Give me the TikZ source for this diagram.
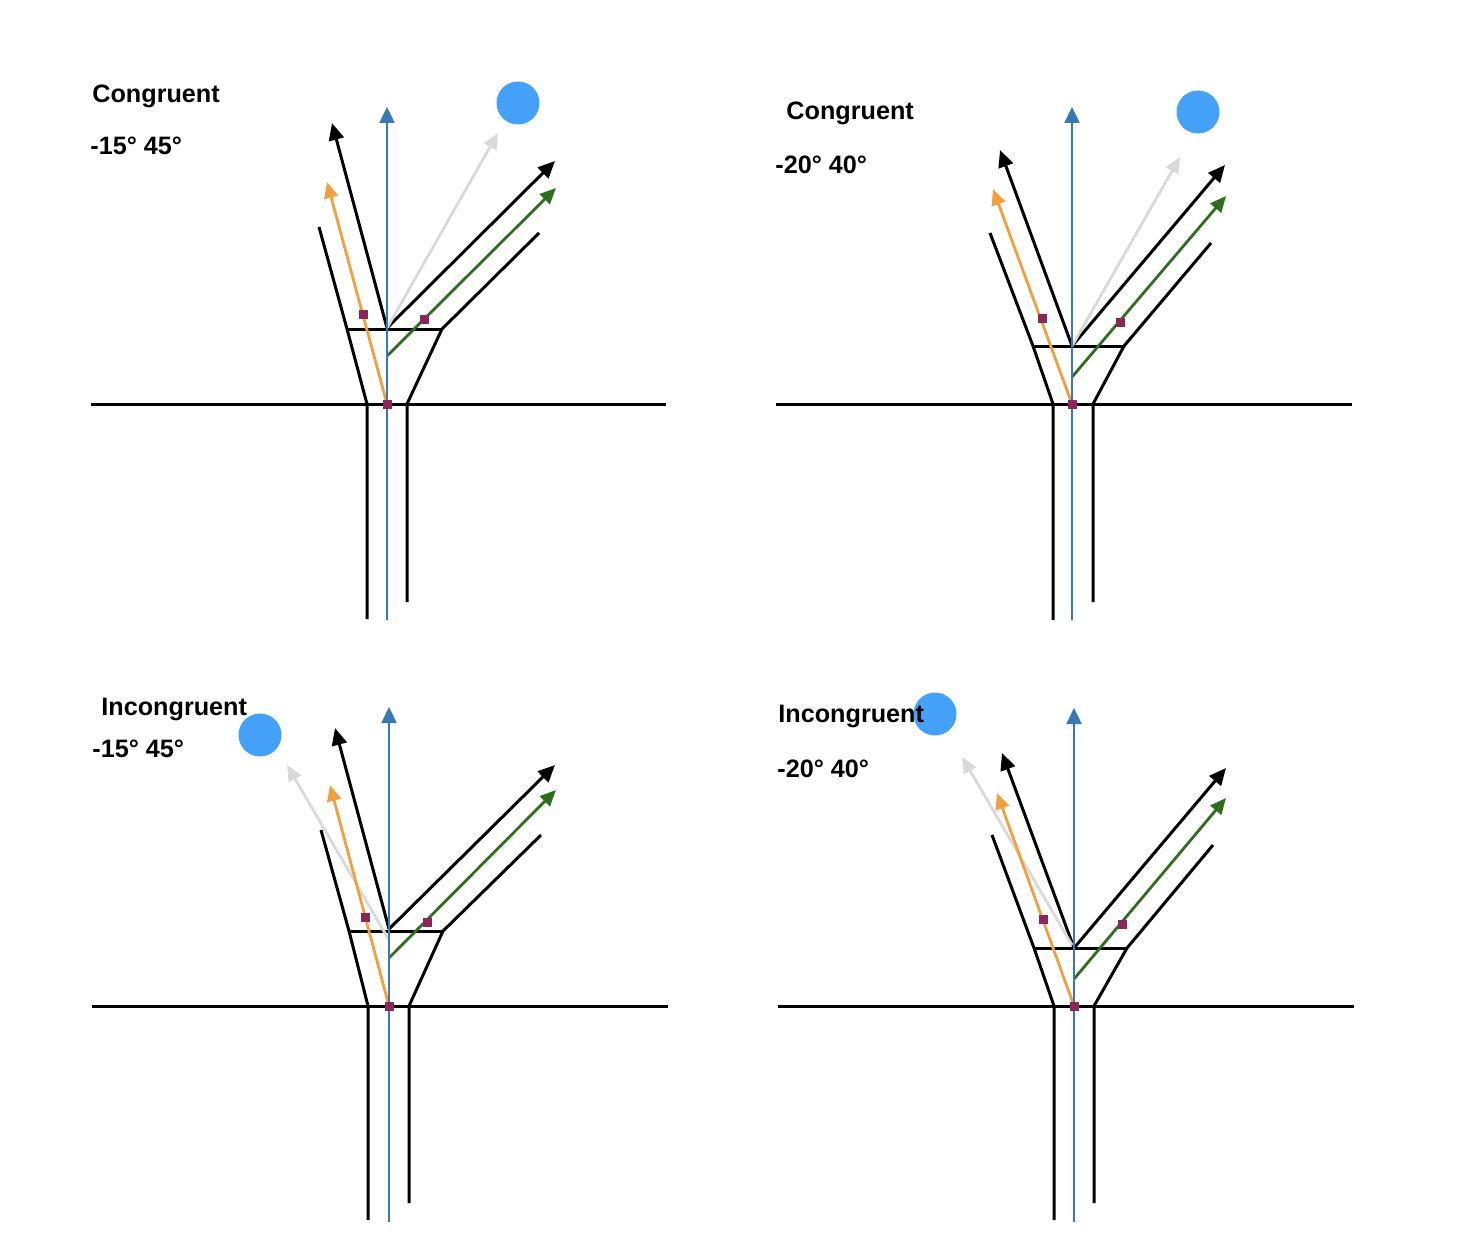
\documentclass[tikz,border=0pt]{standalone}
\usepackage{fontspec}
\setmainfont{Liberation Sans}
\usepackage{tikz}
\usetikzlibrary{arrows.meta}
\definecolor{axisblue}{HTML}{3A78B4}
\definecolor{rayorange}{HTML}{F0A040}
\definecolor{raygreen}{HTML}{2F6E1F}
\definecolor{raygrey}{HTML}{D9D9D9}
\definecolor{ballblue}{HTML}{45A1F7}
\definecolor{plum}{HTML}{8C2558}

\begin{document}
\begin{tikzpicture}[x=0.5pt, y=-0.5pt, line join=round,
    wall/.style={line width=1.5pt, draw=black},
    arrow/.style={-{Triangle[length=8.5pt, width=7.5pt]}, line width=1.5pt, draw=black},
    ray/.style={-{Triangle[length=8pt, width=7pt]}, line width=1.4pt, draw=#1},
    axis/.style={-{Triangle[length=8pt, width=7.5pt]}, line width=1.2pt, draw=axisblue},
    sensor/.style={fill=plum, inner sep=0pt, minimum size=4.5pt},
    ball/.style={circle, fill=ballblue, inner sep=0pt, minimum size=21.5pt},
    headline/.style={anchor=base west, inner sep=0pt, font=\fontsize{12.6}{15}\selectfont\bfseries}]
  \fill[white] (0,0) rectangle (1470,1246);
  \useasboundingbox (0,0) rectangle (1470,1246);

  % top left
  \coordinate (a-gl) at (91,404); \coordinate (a-gr) at (666,404);
  \coordinate (a-pl) at (367,404); \coordinate (a-pr) at (407,404);
  \coordinate (a-plb) at (367,619); \coordinate (a-prb) at (407,602);
  \coordinate (a-fl) at (347,329); \coordinate (a-fr) at (442,329);
  \coordinate (a-ol) at (319,227); \coordinate (a-or) at (539,233);
  \coordinate (a-jn) at (387,328); \coordinate (a-il) at (332,123);
  \coordinate (a-ir) at (555,161); \coordinate (a-bb) at (387,620);
  \coordinate (a-bt) at (387,107); \coordinate (a-ob) at (387,404);
  \coordinate (a-ot) at (327,182); \coordinate (a-gb) at (387,356);
  \coordinate (a-gt) at (556,188); \coordinate (a-yt) at (498,133);

  \draw[wall] (a-gl) -- (a-gr); \draw[wall] (a-fl) -- (a-fr);
  \draw[wall] (a-plb) -- (a-pl) -- (a-fl) -- (a-ol);
  \draw[wall] (a-prb) -- (a-pr) -- (a-fr) -- (a-or);
  \draw[arrow] (a-jn) -- (a-il); \draw[arrow] (a-jn) -- (a-ir);
  \draw[ray=raygrey] (a-jn) -- (a-yt);
  \draw[ray=rayorange] (a-ob) -- (a-ot);
  \draw[ray=raygreen] (a-gb) -- (a-gt);
  \draw[axis] (a-bb) -- (a-bt);
  \node[sensor] (a-s1) at (363,314) {}; \node[sensor] (a-s2) at (424,319) {};
  \node[sensor] (a-s3) at (a-ob) {};
  \node[ball] (a-ball) at (518,103) {};
  \node[headline] (a-title) at (92,103) {Congruent};
  \node[headline] (a-angles) at (90,155) {-15° 45°};

  % top right
  \coordinate (b-gl) at (776,404); \coordinate (b-gr) at (1352,404);
  \coordinate (b-pl) at (1053,404); \coordinate (b-pr) at (1093,404);
  \coordinate (b-plb) at (1053,620); \coordinate (b-prb) at (1093,602);
  \coordinate (b-fl) at (1033,346); \coordinate (b-fr) at (1124,346);
  \coordinate (b-ol) at (990,233); \coordinate (b-or) at (1211,243);
  \coordinate (b-jn) at (1072,346); \coordinate (b-il) at (1000,150);
  \coordinate (b-ir) at (1225,165); \coordinate (b-bb) at (1072,620);
  \coordinate (b-bt) at (1072,107); \coordinate (b-ob) at (1072,404);
  \coordinate (b-ot) at (993,189); \coordinate (b-gb) at (1072,377);
  \coordinate (b-gt) at (1226,196); \coordinate (b-yt) at (1180,157);

  \draw[wall] (b-gl) -- (b-gr); \draw[wall] (b-fl) -- (b-fr);
  \draw[wall] (b-plb) -- (b-pl) -- (b-fl) -- (b-ol);
  \draw[wall] (b-prb) -- (b-pr) -- (b-fr) -- (b-or);
  \draw[arrow] (b-jn) -- (b-il); \draw[arrow] (b-jn) -- (b-ir);
  \draw[ray=raygrey] (b-jn) -- (b-yt);
  \draw[ray=rayorange] (b-ob) -- (b-ot);
  \draw[ray=raygreen] (b-gb) -- (b-gt);
  \draw[axis] (b-bb) -- (b-bt);
  \node[sensor] (b-s1) at (1042,318) {}; \node[sensor] (b-s2) at (1120,322) {};
  \node[sensor] (b-s3) at (b-ob) {};
  \node[ball] (b-ball) at (1198,112) {};
  \node[headline] (b-title) at (786,120) {Congruent};
  \node[headline] (b-angles) at (775,174) {-20° 40°};

  % bottom left
  \coordinate (c-gl) at (92,1006); \coordinate (c-gr) at (668,1006);
  \coordinate (c-pl) at (368,1006); \coordinate (c-pr) at (409,1006);
  \coordinate (c-plb) at (368,1220); \coordinate (c-prb) at (409,1203);
  \coordinate (c-fl) at (349,931); \coordinate (c-fr) at (443,931);
  \coordinate (c-ol) at (321,830); \coordinate (c-or) at (541,835);
  \coordinate (c-jn) at (389,929); \coordinate (c-il) at (335,728);
  \coordinate (c-ir) at (555,765); \coordinate (c-bb) at (389,1222);
  \coordinate (c-bt) at (389,707); \coordinate (c-ob) at (389,1006);
  \coordinate (c-ot) at (330,785); \coordinate (c-gb) at (389,958);
  \coordinate (c-gt) at (556,790); \coordinate (c-yb) at (389,940);
  \coordinate (c-yt) at (287,765);

  \draw[wall] (c-gl) -- (c-gr); \draw[wall] (c-fl) -- (c-fr);
  \draw[wall] (c-plb) -- (c-pl) -- (c-fl) -- (c-ol);
  \draw[wall] (c-prb) -- (c-pr) -- (c-fr) -- (c-or);
  \draw[arrow] (c-jn) -- (c-il); \draw[arrow] (c-jn) -- (c-ir);
  \draw[ray=raygrey] (c-yb) -- (c-yt);
  \draw[ray=rayorange] (c-ob) -- (c-ot);
  \draw[ray=raygreen] (c-gb) -- (c-gt);
  \draw[axis] (c-bb) -- (c-bt);
  \node[sensor] (c-s1) at (365,917) {}; \node[sensor] (c-s2) at (427,922) {};
  \node[sensor] (c-s3) at (c-ob) {};
  \node[ball] (c-ball) at (260,735) {};
  \node[headline] (c-title) at (101,715) {Incongruent};
  \node[headline] (c-angles) at (92,757) {-15° 45°};

  % bottom right
  \coordinate (d-gl) at (778,1006); \coordinate (d-gr) at (1354,1006);
  \coordinate (d-pl) at (1054,1006); \coordinate (d-pr) at (1094,1006);
  \coordinate (d-plb) at (1054,1220); \coordinate (d-prb) at (1094,1203);
  \coordinate (d-fl) at (1034,948); \coordinate (d-fr) at (1127,948);
  \coordinate (d-ol) at (992,835); \coordinate (d-or) at (1213,845);
  \coordinate (d-jn) at (1074,948); \coordinate (d-il) at (1002,753);
  \coordinate (d-ir) at (1226,768); \coordinate (d-bb) at (1074,1222);
  \coordinate (d-bt) at (1074,708); \coordinate (d-ob) at (1074,1006);
  \coordinate (d-ot) at (997,793); \coordinate (d-gb) at (1074,979);
  \coordinate (d-gt) at (1226,798); \coordinate (d-yb) at (1072,945);
  \coordinate (d-yt) at (962,757);

  \draw[wall] (d-gl) -- (d-gr); \draw[wall] (d-fl) -- (d-fr);
  \draw[wall] (d-plb) -- (d-pl) -- (d-fl) -- (d-ol);
  \draw[wall] (d-prb) -- (d-pr) -- (d-fr) -- (d-or);
  \draw[arrow] (d-jn) -- (d-il); \draw[arrow] (d-jn) -- (d-ir);
  \draw[ray=raygrey] (d-yb) -- (d-yt);
  \draw[ray=rayorange] (d-ob) -- (d-ot);
  \draw[ray=raygreen] (d-gb) -- (d-gt);
  \draw[axis] (d-bb) -- (d-bt);
  \node[sensor] (d-s1) at (1043,919) {}; \node[sensor] (d-s2) at (1122,924) {};
  \node[sensor] (d-s3) at (d-ob) {};
  \node[ball] (d-ball) at (935,714) {};
  \node[headline] (d-title) at (778,722) {Incongruent};
  \node[headline] (d-angles) at (777,777) {-20° 40°};
\end{tikzpicture}
\end{document}
